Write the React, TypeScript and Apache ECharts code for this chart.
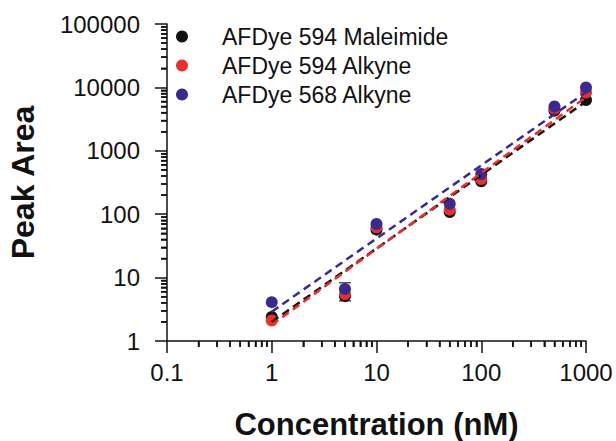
import React, { useEffect, useRef } from "react";
import * as echarts from "echarts";

const concentrations = [1, 5, 10, 50, 100, 500, 1000];
const maleimide594 = [2.4, 5.1, 57, 108, 330, 4300, 6300];
const alkyne594 = [2.1, 5.5, 62, 118, 360, 4600, 8300];
const alkyne568 = [4.1, 6.6, 70, 146, 430, 5000, 10000];

// fitted trend lines: [x, y] endpoints
const fitMaleimide594 = [[1, 2.0], [1000, 6000]];
const fitAlkyne594 = [[1, 1.8], [1000, 7000]];
const fitAlkyne568 = [[1, 2.9], [1000, 8400]];

// error bar on Maleimide point at 5 nM: [x, low, high]
const errMaleimide594 = [[5, 4.3, 8.3]];

const xMinorTicks = [
  0.2, 0.3, 0.4, 0.5, 0.6, 0.7, 0.8, 0.9,
  2, 3, 4, 5, 6, 7, 8, 9,
  20, 30, 40, 50, 60, 70, 80, 90,
  200, 300, 400, 500, 600, 700, 800, 900,
];
const yMinorTicks = [
  2, 3, 4, 5, 6, 7, 8, 9,
  20, 30, 40, 50, 60, 70, 80, 90,
  200, 300, 400, 500, 600, 700, 800, 900,
  2000, 3000, 4000, 5000, 6000, 7000, 8000, 9000,
  20000, 30000, 40000, 50000, 60000, 70000, 80000, 90000,
];

const names = ["AFDye 594 Maleimide", "AFDye 594 Alkyne", "AFDye 568 Alkyne"];
const colors = ["#111111", "#e8302e", "#3b2a8c"];

const FONT = "'Liberation Sans', Arial, sans-serif";

export default function App() {
  const ref = useRef<HTMLDivElement>(null);
  useEffect(() => {
    if (!ref.current) return;
    const chart = echarts.init(ref.current, null, { renderer: "svg" });
    const pts = (ys: number[]) => concentrations.map((x, i) => [x, ys[i]]);
    const scatter = (i: number, ys: number[]) => ({
      type: "scatter",
      name: names[i],
      data: pts(ys),
      symbol: "circle",
      symbolSize: 12,
      itemStyle: { color: colors[i], opacity: 1 },
      z: 3 + i,
    });
    const fit = (i: number, d: number[][]) => ({
      type: "line",
      name: "fit" + i,
      data: d,
      showSymbol: false,
      symbol: "none",
      lineStyle: { color: colors[i], width: 2.5, type: [8, 5] },
      z: 10 + i,
    });
    const fmt = (v: number) => String(v);
    const tickLine = { color: "#111", width: 1.5 };
    chart.setOption({
      animation: false,
      backgroundColor: "#ffffff",
      textStyle: { fontFamily: FONT },
      grid: { left: 167, right: 30, top: 24, bottom: 100, containLabel: false, outerBoundsMode: "none" },
      legend: {
        data: names,
        orient: "vertical",
        left: 171,
        top: 20,
        itemWidth: 12,
        itemHeight: 12,
        itemGap: 6,
        icon: "circle",
        textStyle: { fontSize: 23, color: "#111", fontFamily: FONT, padding: [0, 0, 0, 29] },
      },
      xAxis: [
        {
          type: "log",
          logBase: 10,
          min: 0.1,
          max: 1000,
          position: "bottom",
          name: "Concentration (nM)",
          nameLocation: "middle",
          nameGap: 70,
          nameTextStyle: { fontSize: 31, lineHeight: 26, fontWeight: "bold", color: "#111", fontFamily: FONT },
          axisLine: { lineStyle: tickLine },
          axisTick: { inside: false, length: 12, lineStyle: tickLine },
          axisLabel: { fontSize: 24, color: "#111", margin: 19, fontFamily: FONT, formatter: fmt },
          splitLine: { show: false },
        },
        {
          type: "log",
          logBase: 10,
          min: 0.1,
          max: 1000,
          position: "bottom",
          offset: 0,
          axisLine: { show: false },
          axisTick: { show: true, inside: false, length: 6, lineStyle: tickLine, customValues: xMinorTicks },
          axisLabel: { show: false },
          splitLine: { show: false },
        },
      ],
      yAxis: [
        {
          type: "log",
          logBase: 10,
          min: 1,
          max: 100000,
          position: "left",
          name: "Peak Area",
          nameLocation: "middle",
          nameGap: 128,
          nameRotate: 90,
          nameTextStyle: { fontSize: 32, fontWeight: "bold", color: "#111", fontFamily: FONT },
          axisLine: { show: true, lineStyle: tickLine },
          axisTick: { show: true, inside: false, length: 12, lineStyle: tickLine },
          axisLabel: { fontSize: 24, color: "#111", margin: 27, fontFamily: FONT, formatter: fmt },
          splitLine: { show: false },
        },
        {
          type: "log",
          logBase: 10,
          min: 1,
          max: 100000,
          position: "left",
          offset: 0,
          axisLine: { show: false },
          axisTick: { show: true, inside: false, length: 6, lineStyle: tickLine, customValues: yMinorTicks },
          axisLabel: { show: false },
          splitLine: { show: false },
        },
      ],
      series: [
        {
          type: "custom",
          name: "xminor",
          coordinateSystem: "cartesian2d",
          clip: false,
          silent: true,
          z: 20,
          data: xMinorTicks.map((v) => [v, 10]),
          renderItem: (params: any, api: any) => {
            const px = api.coord([api.value(0), 10])[0];
            const cs = params.coordSys;
            const by = cs.y + cs.height;
            return {
              type: "rect",
              shape: { x: px - 0.75, y: by, width: 1.5, height: 6 },
              style: { fill: "#111" },
            };
          },
        },
        {
          type: "custom",
          name: "yminor",
          coordinateSystem: "cartesian2d",
          clip: false,
          silent: true,
          z: 20,
          data: yMinorTicks.map((v) => [10, v]),
          renderItem: (params: any, api: any) => {
            const py = api.coord([10, api.value(1)])[1];
            const lx = params.coordSys.x;
            return {
              type: "rect",
              shape: { x: lx - 6, y: py - 0.75, width: 6, height: 1.5 },
              style: { fill: "#111" },
            };
          },
        },
        {
          type: "custom",
          name: "errbar",
          coordinateSystem: "cartesian2d",
          clip: false,
          silent: true,
          z: 2,
          data: errMaleimide594,
          renderItem: (params: any, api: any) => {
            const x = api.value(0);
            const lo = api.coord([x, api.value(1)]);
            const hi = api.coord([x, api.value(2)]);
            const w = 6;
            const st = { stroke: "#555", lineWidth: 1.5 };
            return {
              type: "group",
              children: [
                { type: "line", shape: { x1: lo[0], y1: lo[1], x2: hi[0], y2: hi[1] }, style: st },
                { type: "line", shape: { x1: lo[0] - w, y1: lo[1], x2: lo[0] + w, y2: lo[1] }, style: st },
                { type: "line", shape: { x1: hi[0] - w, y1: hi[1], x2: hi[0] + w, y2: hi[1] }, style: st },
              ],
            };
          },
        },
        scatter(0, maleimide594),
        scatter(1, alkyne594),
        scatter(2, alkyne568),
        fit(0, fitMaleimide594),
        fit(1, fitAlkyne594),
        fit(2, fitAlkyne568),
      ],
    });
    return () => chart.dispose();
  }, []);
  return (
    <div
      ref={ref}
      style={{ position: "fixed", left: 0, top: 0, width: 616, height: 441 }}
    />
  );
}
